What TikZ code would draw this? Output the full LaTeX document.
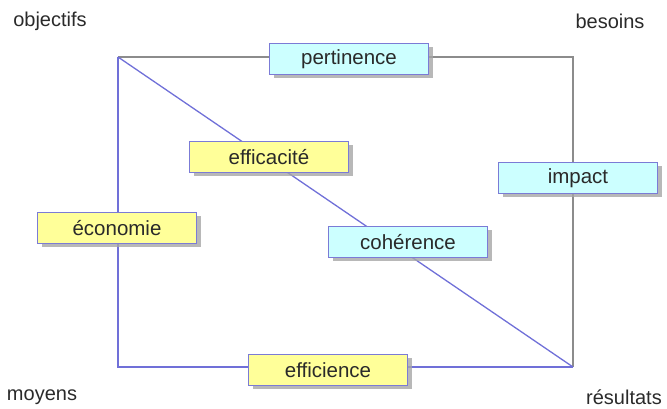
\documentclass[tikz,border=0pt]{standalone}
\usepackage{fontspec}
\setmainfont{Liberation Sans}
\usetikzlibrary{shadows}
\definecolor{cyanfill}{HTML}{CCFFFF}
\definecolor{yelfill}{HTML}{FFFF99}
\definecolor{boxline}{HTML}{7B7BD6}
\definecolor{blueline}{HTML}{7070D8}
\definecolor{grayline}{HTML}{8C8C8C}
\definecolor{txt}{HTML}{2A2A2A}
\tikzset{
  box/.style={draw=boxline, line width=1pt, minimum width=159pt, minimum height=31pt,
    inner sep=0pt, text=txt, font=\fontsize{20.5}{22}\selectfont,
    drop shadow={shadow xshift=4pt, shadow yshift=-4pt, fill=gray!70, opacity=0.8}},
  cbox/.style={box, fill=cyanfill},
  ybox/.style={box, fill=yelfill},
  corner/.style={text=txt, font=\fontsize{20}{22}\selectfont, inner sep=0pt},
  gline/.style={draw=grayline, line width=1.4pt},
  bline/.style={draw=blueline, line width=1.3pt}
}
\begin{document}
\begin{tikzpicture}[x=1pt,y=1pt]
\useasboundingbox (0,0) rectangle (667,409);
\coordinate (O) at (118,352);
\coordinate (B) at (573,352);
\coordinate (M) at (118,42);
\coordinate (R) at (573,42);
\draw[gline] (O) -- (B) -- (R);
\draw[bline] (O) -- (M) -- (R);
\draw[bline] (O) -- (R);
\node[cbox] (pert) at (349,350) {pertinence};
\node[ybox] (effa) at (269,252) {efficacité};
\node[cbox] (imp) at (578,231) {impact};
\node[ybox] (eco) at (117,181) {économie};
\node[cbox] (coh) at (408,167) {cohérence};
\node[ybox] (effi) at (328,39) {efficience};
\node[corner] (obj) at (50,388) {objectifs};
\node[corner] (bes) at (610,388) {besoins};
\node[corner] (moy) at (42,12) {moyens};
\node[corner] (res) at (624,12) {résultats};
\end{tikzpicture}
\end{document}
